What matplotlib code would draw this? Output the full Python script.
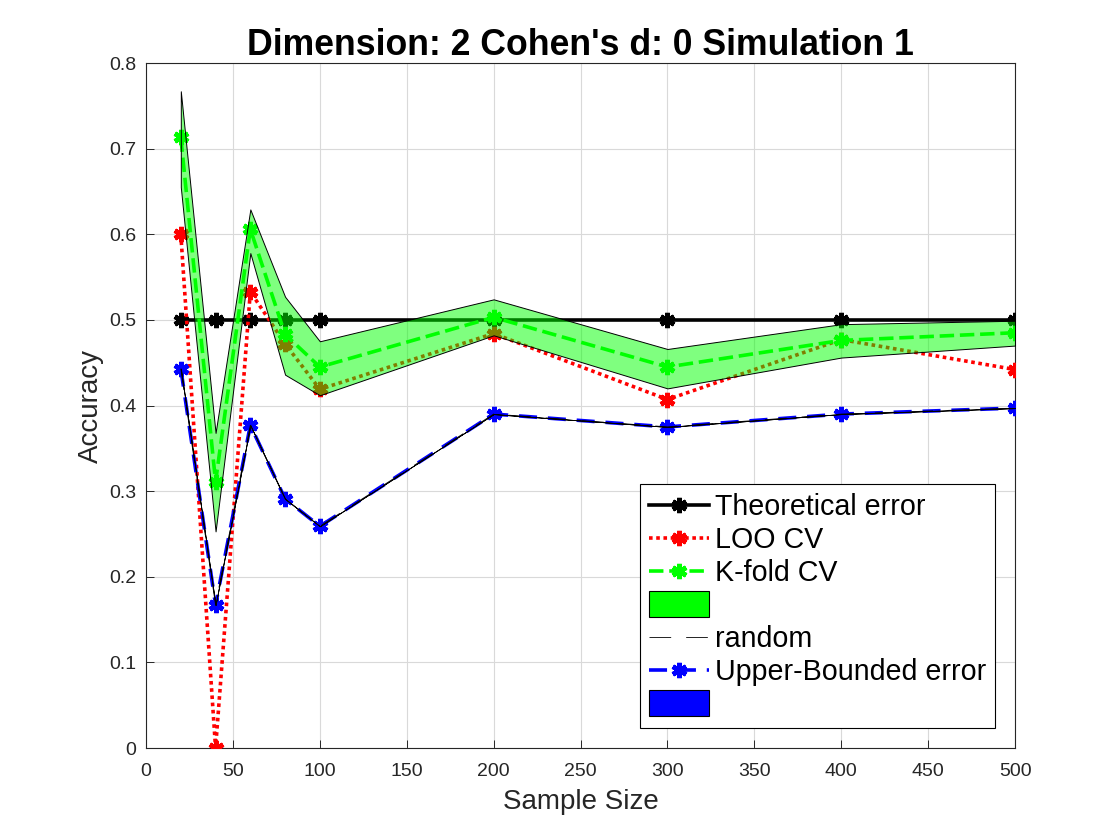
import matplotlib
matplotlib.use("Agg")
import matplotlib.pyplot as plt
from matplotlib.patches import Patch, Rectangle
from matplotlib.legend_handler import HandlerPatch

# ---- data ----
sample_size = [20, 40, 60, 80, 100, 200, 300, 400, 500]
theoretical = [0.5, 0.5, 0.5, 0.5, 0.5, 0.5, 0.5, 0.5, 0.5]
loo_cv = [0.600, 0.000, 0.533, 0.472, 0.419, 0.484, 0.407, 0.477, 0.442]
kfold_cv = [0.713, 0.311, 0.606, 0.483, 0.445, 0.503, 0.445, 0.476, 0.485]
kfold_upper = [0.767, 0.368, 0.629, 0.527, 0.475, 0.524, 0.466, 0.495, 0.499]
kfold_lower = [0.655, 0.253, 0.578, 0.436, 0.412, 0.482, 0.420, 0.456, 0.470]
upper_bounded = [0.443, 0.167, 0.377, 0.291, 0.259, 0.390, 0.375, 0.390, 0.397]
random_line = [0.443, 0.167, 0.377, 0.291, 0.259, 0.390, 0.375, 0.390, 0.397]

x_ticks = [0, 50, 100, 150, 200, 250, 300, 350, 400, 450, 500]
x_tick_labels = ["0", "50", "100", "150", "200", "250", "300", "350", "400", "450", "500"]
y_ticks = [0, 0.1, 0.2, 0.3, 0.4, 0.5, 0.6, 0.7, 0.8]
y_tick_labels = ["0", "0.1", "0.2", "0.3", "0.4", "0.5", "0.6", "0.7", "0.8"]

title = "Dimension: 2 Cohen's d: 0 Simulation 1"
legend_labels = ["Theoretical error", "LOO CV", "K-fold CV", "", "random",
                 "Upper-Bounded error", ""]

plt.rcParams['font.family'] = ['Liberation Sans', 'DejaVu Sans']

fig = plt.figure(figsize=(11.2, 8.4), dpi=100)
ax = fig.add_axes([0.1304, 0.1095, 0.7759, 0.8155])

ast = (6, 2, 0)
ms = 11
mew = 3.4

l_theo, = ax.plot(sample_size, theoretical, color='black', lw=2.6, marker=ast,
                  ms=ms, mew=mew, mec='black', zorder=3)
l_loo, = ax.plot(sample_size, loo_cv, color=(1, 0, 0), lw=2.6, ls=(0, (1, 1)),
                 marker=ast, ms=ms, mew=mew, mec=(1, 0, 0), zorder=3)
l_kf, = ax.plot(sample_size, kfold_cv, color=(0, 1, 0), lw=2.6, ls=(0, (4, 1.6)),
                marker=ast, ms=ms, mew=mew, mec=(0, 1, 0), zorder=3)
ax.fill_between(sample_size, kfold_lower, kfold_upper, facecolor=(0, 1, 0, 0.5),
                edgecolor='black', linewidth=0.7, zorder=4)
l_ub, = ax.plot(sample_size, upper_bounded, color=(0, 0, 1), lw=2.6, ls=(0, (5, 3)),
                marker=ast, ms=ms, mew=mew, mec=(0, 0, 1), zorder=5)
l_rand, = ax.plot(sample_size, random_line, color='black', lw=0.6,
                  ls=(0, (26, 18)), zorder=5)
ax.fill_between(sample_size, upper_bounded, upper_bounded, facecolor=(0, 0, 1),
                edgecolor='black', linewidth=0.6, zorder=6)

p_green = Patch(facecolor=(0, 1, 0), edgecolor='black', linewidth=0.8)
p_blue = Patch(facecolor=(0, 0, 1), edgecolor='black', linewidth=0.8)


def tall_patch(legend, orig_handle, xdescent, ydescent, width, height, fontsize):
    extra = 0.15 * height
    return Rectangle((-xdescent, -ydescent - extra), width, height + 2 * extra)


handles = [l_theo, l_loo, l_kf, p_green, l_rand, l_ub, p_blue]
leg = ax.legend(handles, legend_labels, loc='lower right',
                bbox_to_anchor=(0.9770, 0.0292), borderaxespad=0,
                fontsize=20.6, fancybox=False, framealpha=1, edgecolor='black',
                handlelength=2.1, handletextpad=0.22, labelspacing=0.18,
                borderpad=0.3, numpoints=1,
                handler_map={Patch: HandlerPatch(patch_func=tall_patch)})
leg.get_frame().set_linewidth(0.8)
leg.set_zorder(10)

ax.set_xlim(0, 500)
ax.set_ylim(0, 0.8)
ax.set_xticks(x_ticks)
ax.set_xticklabels(x_tick_labels)
ax.set_yticks(y_ticks)
ax.set_yticklabels(y_tick_labels)
ax.tick_params(direction='in', length=6, width=0.7, labelsize=14, pad=7,
               colors='#262626', labelcolor='#262626')
ax.tick_params(axis='x', pad=11)
ax.grid(True, color='#d9d9d9', linewidth=0.8)
ax.set_axisbelow(True)
for s in ax.spines.values():
    s.set_linewidth(0.8)
    s.set_color('#262626')

ax.set_xlabel("Sample Size", fontsize=20, color='#262626', labelpad=6)
ax.set_ylabel("Accuracy", fontsize=20, color='#262626', labelpad=4)
ax.set_title(title, fontsize=25.7, fontweight='bold', pad=6)

fig.savefig("out.png", dpi=100)
